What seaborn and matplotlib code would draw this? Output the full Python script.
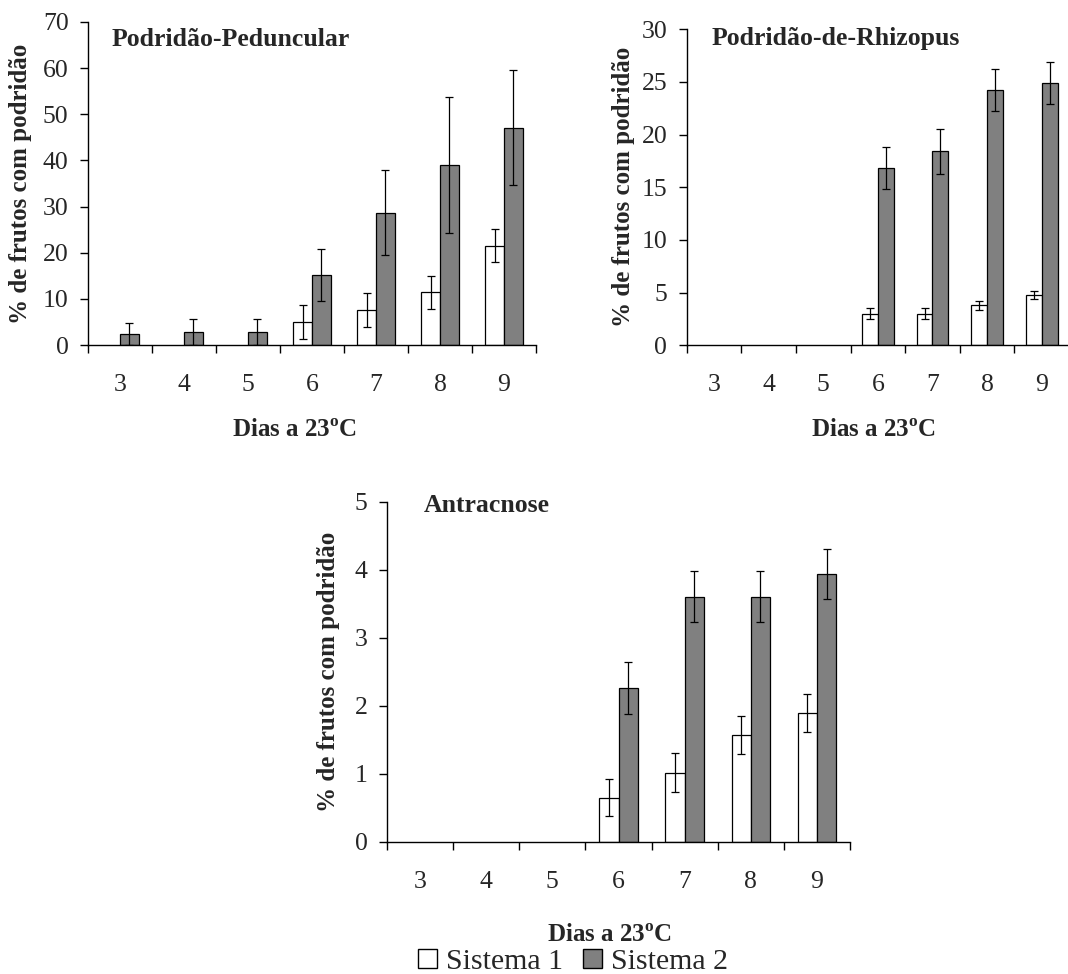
import numpy as np
import pandas as pd
import matplotlib
matplotlib.use("Agg")
import matplotlib.pyplot as plt
import matplotlib.patches as mpatches
from matplotlib.ticker import FixedLocator, NullFormatter
import seaborn as sns

# ---------------- data ----------------
days = [3, 4, 5, 6, 7, 8, 9]
systems = ["Sistema 1", "Sistema 2"]

ped_s1 = [0, 0, 0, 5.0, 7.6, 11.4, 21.5]
ped_s1_err = [0, 0, 0, 3.7, 3.7, 3.6, 3.6]
ped_s2 = [2.45, 2.9, 2.9, 15.2, 28.7, 39.0, 47.1]
ped_s2_err = [2.35, 2.8, 2.8, 5.6, 9.3, 14.8, 12.4]

rhi_s1 = [0, 0, 0, 3.0, 3.0, 3.8, 4.8]
rhi_s1_err = [0, 0, 0, 0.5, 0.5, 0.45, 0.4]
rhi_s2 = [0, 0, 0, 16.8, 18.4, 24.2, 24.9]
rhi_s2_err = [0, 0, 0, 2.0, 2.1, 2.0, 2.0]

ant_s1 = [0, 0, 0, 0.65, 1.02, 1.58, 1.90]
ant_s1_err = [0, 0, 0, 0.27, 0.29, 0.28, 0.28]
ant_s2 = [0, 0, 0, 2.26, 3.61, 3.61, 3.94]
ant_s2_err = [0, 0, 0, 0.38, 0.37, 0.37, 0.37]

titles = ["Podridão-Peduncular", "Podridão-de-Rhizopus", "Antracnose"]
ylabel = "% de frutos com podridão"
xlabel = r"Dias a 23$^{\mathbf{o}}$C"
colors = ["#FFFFFF", "#808080"]

# ---------------- style ----------------
sns.set_theme(style="white")
plt.rcParams["font.family"] = ["Liberation Serif", "DejaVu Serif"]
plt.rcParams["mathtext.fontset"] = "custom"
plt.rcParams["mathtext.rm"] = "Liberation Serif"
plt.rcParams["mathtext.bf"] = "Liberation Serif:bold"

fig = plt.figure(figsize=(10.68, 9.74), dpi=100)
W, H = 1068, 974

def axes_px(left, top, right, bottom):
    return fig.add_axes([left / W, 1 - bottom / H, (right - left) / W, (bottom - top) / H])

panels = [
    dict(box=(88, 22, 536, 345), s1=ped_s1, e1=ped_s1_err, s2=ped_s2, e2=ped_s2_err,
         ymax=70, ystep=10, title_xy=(0.052, 0.926), ylab_x=-0.125, xlab=(0.462, -0.228)),
    dict(box=(686.7, 29.3, 1069, 345.3), s1=rhi_s1, e1=rhi_s1_err, s2=rhi_s2, e2=rhi_s2_err,
         ymax=30, ystep=5, title_xy=(0.065, 0.950), ylab_x=-0.135, xlab=(0.488, -0.232)),
    dict(box=(387, 502, 850, 842), s1=ant_s1, e1=ant_s1_err, s2=ant_s2, e2=ant_s2_err,
         ymax=5, ystep=1, title_xy=(0.080, 0.971), ylab_x=-0.1015, xlab=(0.48, -0.242)),
]

for p, title in zip(panels, titles):
    ax = axes_px(*p["box"])
    df = pd.DataFrame({
        "dia": [str(d) for d in days] * 2,
        "sistema": [systems[0]] * len(days) + [systems[1]] * len(days),
        "valor": list(p["s1"]) + list(p["s2"]),
    })
    sns.barplot(data=df, x="dia", y="valor", hue="sistema", hue_order=systems,
                palette=colors, width=0.58, errorbar=None, legend=False,
                edgecolor="black", linewidth=0.9, saturation=1, ax=ax)
    # error bars at bar centres; hide empty (zero) bars
    for cont, vals, errs in zip(ax.containers, [p["s1"], p["s2"]], [p["e1"], p["e2"]]):
        for bar, v, e in zip(cont.patches, vals, errs):
            if v <= 0:
                bar.set_visible(False)
                continue
            if e > 0:
                ax.errorbar(bar.get_x() + bar.get_width() / 2, v, yerr=e, fmt="none",
                            ecolor="black", elinewidth=0.9, capsize=3, capthick=0.9)
    ax.set_xlim(-0.5, len(days) - 0.5)
    ax.set_ylim(0, p["ymax"])
    yt = np.arange(0, p["ymax"] + 0.001, p["ystep"])
    ax.set_yticks(yt)
    ax.set_yticklabels([f"{int(v)}" for v in yt])
    # major ticks at category boundaries, labels at centres
    ax.xaxis.set_major_locator(FixedLocator(np.arange(-0.5, len(days), 1.0)))
    ax.xaxis.set_major_formatter(NullFormatter())
    ax.xaxis.set_minor_locator(FixedLocator(np.arange(0, len(days))))
    ax.set_xticklabels([str(d) for d in days], minor=True)
    ax.tick_params(axis="x", which="major", direction="out", length=6, width=1.0,
                   color="black", bottom=True)
    ax.tick_params(axis="x", which="minor", length=0, pad=21, labelsize=18.5, bottom=True)
    ax.tick_params(axis="y", which="major", direction="out", length=6, width=1.0,
                   color="black", pad=8, labelsize=18.5, left=True)
    for s in ["top", "right"]:
        ax.spines[s].set_visible(False)
    for s in ["left", "bottom"]:
        ax.spines[s].set_color("black")
        ax.spines[s].set_linewidth(1.0)
    ax.set_ylabel(ylabel, fontsize=18, fontweight="bold")
    ax.yaxis.set_label_coords(p["ylab_x"], 0.5)
    ax.set_xlabel(xlabel, fontsize=18, fontweight="bold")
    ax.xaxis.set_label_coords(*p["xlab"])
    ax.text(p["title_xy"][0], p["title_xy"][1], title, transform=ax.transAxes,
            fontsize=18.5, fontweight="bold", ha="left", va="baseline")
    ax.set_facecolor("white")

handles = [mpatches.Patch(facecolor=c, edgecolor="black", linewidth=1.0) for c in colors]
fig.legend(handles, systems, loc="center", bbox_to_anchor=(573 / W, 1 - 962 / H),
           ncol=2, frameon=False, fontsize=21.5, handlelength=0.62, handleheight=0.62,
           handletextpad=0.3, columnspacing=0.7, borderpad=0, borderaxespad=0)

fig.savefig("out.png", dpi=100, facecolor="white")
